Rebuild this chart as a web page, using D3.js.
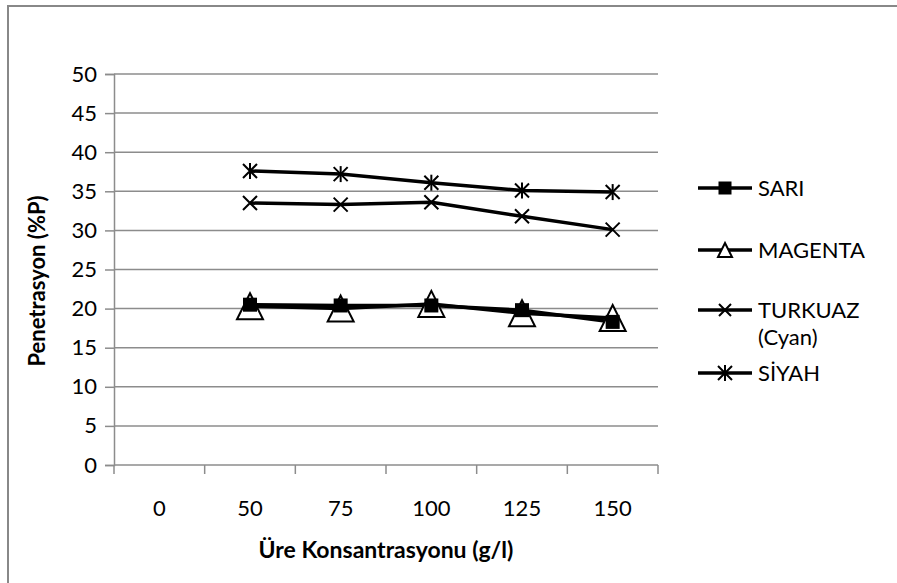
<!DOCTYPE html>
<html>
<head>
<meta charset="utf-8">
<script src="https://cdn.jsdelivr.net/npm/d3@7"></script>
<style>
  body { margin: 0; background: #fff; }
  svg { display: block; font-family: Lato, "Open Sans", sans-serif; }
</style>
</head>
<body>
<div id="chart"></div>
<script>
// categories and series
const categories = ["0", "50", "75", "100", "125", "150"]
const sari    = [null, 20.5, 20.4, 20.4, 19.8, 18.3]
const magenta = [null, 20.3, 20.0, 20.6, 19.4, 18.8]
const turkuaz = [null, 33.5, 33.3, 33.6, 31.8, 30.1]
const siyah   = [null, 37.6, 37.2, 36.1, 35.1, 34.9]
const yTicks = [0, 5, 10, 15, 20, 25, 30, 35, 40, 45, 50]

const W = 897, H = 583
const plot = {left: 114, right: 658, top: 74, bottom: 465}

var svg = d3.select("#chart").append("svg")
  .attr("width", W)
  .attr("height", H)

// outer frame (cut by the window on the right and bottom)
svg.append("rect")
  .attr("x", 8).attr("y", 6)
  .attr("width", W + 10).attr("height", H + 10)
  .attr("fill", "none")
  .attr("stroke", "#888")
  .attr("stroke-width", 2)

var x = d3.scaleBand().domain(categories).range([plot.left, plot.right])
var y = d3.scaleLinear().domain([0, 50]).range([plot.bottom, plot.top])

// gridlines
svg.append("g")
  .selectAll("line")
  .data(yTicks.filter(d => d > 0))
  .join("line")
  .attr("x1", plot.left).attr("x2", plot.right)
  .attr("y1", d => y(d)).attr("y2", d => y(d))
  .attr("stroke", "#8c8c8c")
  .attr("stroke-width", 1.5)

// y axis
var yAxis = svg.append("g")
  .attr("transform", "translate(" + plot.left + ",0)")
  .call(d3.axisLeft(y).tickValues(yTicks).tickSize(9).tickPadding(8))
yAxis.select(".domain").attr("stroke", "#8c8c8c").attr("stroke-width", 1.5)
yAxis.selectAll(".tick line").attr("stroke", "#8c8c8c").attr("stroke-width", 1.5)
yAxis.selectAll("text").attr("font-size", 22).attr("fill", "#000")
  .attr("font-family", "Lato, sans-serif")

// x axis: ticks sit between categories
var xAxisG = svg.append("g")
  .attr("transform", "translate(0," + plot.bottom + ")")
xAxisG.append("line")
  .attr("x1", plot.left).attr("x2", plot.right)
  .attr("stroke", "#8c8c8c").attr("stroke-width", 1.5)
var bounds = categories.map(c => x(c)).concat([plot.right])
xAxisG.selectAll(".tk")
  .data(bounds)
  .join("line")
  .attr("class", "tk")
  .attr("x1", d => d).attr("x2", d => d)
  .attr("y1", 0).attr("y2", 9)
  .attr("stroke", "#8c8c8c").attr("stroke-width", 1.5)
xAxisG.selectAll("text")
  .data(categories)
  .join("text")
  .attr("x", d => x(d) + x.bandwidth() / 2)
  .attr("y", 51)
  .attr("text-anchor", "middle")
  .attr("font-size", 22)
  .text(d => d)

// axis titles
svg.append("text")
  .attr("x", 386)
  .attr("y", 558)
  .attr("text-anchor", "middle")
  .attr("font-size", 23)
  .attr("font-weight", "bold")
  .text("Üre Konsantrasyonu (g/l)")

svg.append("text")
  .attr("transform", "translate(45,281) rotate(-90)")
  .attr("text-anchor", "middle")
  .attr("font-size", 22)
  .attr("font-weight", "bold")
  .text("Penetrasyon (%P)")

// marker drawers
function square(g, s) {
  g.append("rect").attr("x", -s / 2).attr("y", -s / 2)
    .attr("width", s).attr("height", s).attr("fill", "#000")
}
function triangle(g, s) {
  g.append("path")
    .attr("d", "M0," + (-s / 2) + "L" + (s / 2) + "," + (s / 2) + "L" + (-s / 2) + "," + (s / 2) + "Z")
    .attr("fill", "#fff").attr("stroke", "#000").attr("stroke-width", 2)
}
function cross(g, s) {
  g.append("path")
    .attr("d", "M" + (-s / 2) + "," + (-s / 2) + "L" + (s / 2) + "," + (s / 2) +
      "M" + (s / 2) + "," + (-s / 2) + "L" + (-s / 2) + "," + (s / 2))
    .attr("stroke", "#000").attr("stroke-width", 2)
}
function star(g, s) {
  cross(g, s)
  g.append("path")
    .attr("d", "M0," + (-s / 2 - 1) + "L0," + (s / 2 + 1))
    .attr("stroke", "#000").attr("stroke-width", 2)
}

const series = [
  {name: "SİYAH", values: siyah, marker: star, size: 14, legend: 14},
  {name: "TURKUAZ", values: turkuaz, marker: cross, size: 14, legend: 12},
  {name: "MAGENTA", values: magenta, marker: triangle, size: 26, legend: 14},
  {name: "SARI", values: sari, marker: square, size: 14, legend: 13}
]

var line = d3.line()
  .defined(d => d != null)
  .x((d, i) => x(categories[i]) + x.bandwidth() / 2)
  .y(d => y(d))

series.forEach(function (s) {
  svg.append("path")
    .attr("d", line(s.values))
    .attr("fill", "none")
    .attr("stroke", "#000")
    .attr("stroke-width", 3.5)
    .attr("stroke-linejoin", "round")
})
series.forEach(function (s) {
  s.values.forEach(function (v, i) {
    if (v == null) return
    var g = svg.append("g")
      .attr("transform", "translate(" + (x(categories[i]) + x.bandwidth() / 2) + "," + y(v) + ")")
    s.marker(g, s.size)
  })
})

// legend
const legendRows = [
  {s: series[3], y: 188, lines: ["SARI"]},
  {s: series[2], y: 250, lines: ["MAGENTA"]},
  {s: series[1], y: 310, lines: ["TURKUAZ", "(Cyan)"]},
  {s: series[0], y: 373, lines: ["SİYAH"]}
]
legendRows.forEach(function (r) {
  var g = svg.append("g").attr("transform", "translate(0," + r.y + ")")
  g.append("line").attr("x1", 698).attr("x2", 752)
    .attr("stroke", "#000").attr("stroke-width", 3.5)
  var m = g.append("g").attr("transform", "translate(725,0)")
  r.s.marker(m, r.s.legend)
  r.lines.forEach(function (t, k) {
    g.append("text")
      .attr("x", 758).attr("y", 8 + k * 27)
      .attr("font-size", 22)
      .text(t)
  })
})
</script>
</body>
</html>
